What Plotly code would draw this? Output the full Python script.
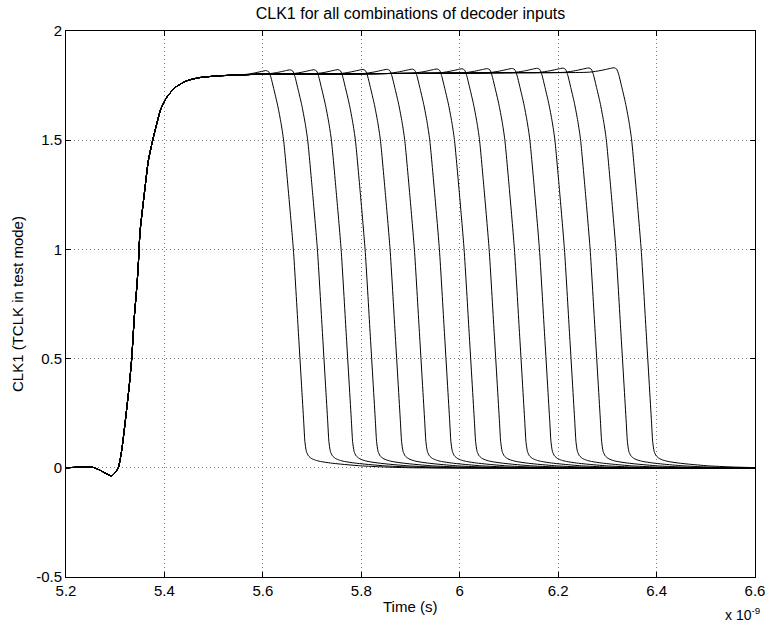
import numpy as np
import plotly.graph_objects as go

# ---- data (time in units of 1e-9 s) ----
# common rising edge (shared by all curves)
rise_t = [5.200, 5.230, 5.255, 5.269, 5.282, 5.2929, 5.300, 5.3063, 5.3132, 5.3213,
          5.3287, 5.3335, 5.3388, 5.3443, 5.3474, 5.3504, 5.3606, 5.3673, 5.3774,
          5.3843, 5.3925, 5.4047, 5.4215, 5.4453, 5.4724, 5.5130, 5.5943]
rise_v = [0.000, 0.003, 0.002, -0.011, -0.027, -0.037, -0.022, 0.000, 0.08, 0.23,
          0.38, 0.50, 0.69, 0.84, 0.95, 1.08, 1.283, 1.406, 1.512,
          1.574, 1.642, 1.696, 1.741, 1.772, 1.787, 1.795, 1.802]
# slowly rising high level
top_t = [5.70, 5.90, 6.10, 6.30, 6.50, 6.60]
top_v = [1.803, 1.806, 1.809, 1.812, 1.814, 1.815]

# time where each curve crosses 1.0 on its falling edge
fall_cross = [5.662, 5.7108, 5.759, 5.8077, 5.8585, 5.9079, 5.9587, 6.0089,
              6.0598, 6.1112, 6.162, 6.2128, 6.265, 6.3173, 6.3687]

# falling-edge shape relative to the 1.0 crossing (offset in 1e-9 s)
fall_dt = [-0.1057, -0.0813, -0.0650, -0.0549, -0.0498, -0.0457, -0.0400, -0.0319,
           -0.0250, -0.0197, -0.0102, 0.0, 0.0102, 0.0209, 0.0234, 0.0264, 0.0305,
           0.0366, 0.0447, 0.0549, 0.0752, 0.0955, 0.1362, 0.1829, 0.2439]
fall_v = [1.802, 1.810, 1.818, 1.822, 1.816, 1.792, 1.740, 1.662,
          1.580, 1.500, 1.270, 1.000, 0.620, 0.215, 0.120, 0.075, 0.055,
          0.043, 0.035, 0.029, 0.022, 0.017, 0.009, 0.004, 0.000]

x_ticks = [5.2, 5.4, 5.6, 5.8, 6.0, 6.2, 6.4, 6.6]
x_ticktext = ['5.2', '5.4', '5.6', '5.8', '6', '6.2', '6.4', '6.6']
y_ticks = [-0.5, 0, 0.5, 1, 1.5, 2]
y_ticktext = ['-0.5', '0', '0.5', '1', '1.5', '2']

base_t = np.array(rise_t + top_t)
base_v = np.array(rise_v + top_v)

fig = go.Figure()
for tc in fall_cross:
    t0 = tc + fall_dt[0]
    scale = np.interp(t0, base_t, base_v) / fall_v[0]
    keep = base_t < t0
    ts = list(base_t[keep]) + [tc + d for d in fall_dt]
    vs = list(base_v[keep]) + [v * scale if v > 1.0 else v for v in fall_v]
    if ts[-1] < 6.6:
        ts.append(6.6)
        vs.append(0.0)
    fig.add_trace(go.Scatter(x=ts, y=vs, mode='lines',
                             line=dict(color='black', width=1, shape='spline', smoothing=0.6),
                             hoverinfo='skip', showlegend=False))

font_family = 'Liberation Sans, Arial, Helvetica, sans-serif'
FS = 15
axis_common = dict(showline=True, linecolor='black', linewidth=1, mirror='ticks',
                   ticks='inside', ticklen=5, tickcolor='black', tickwidth=1,
                   showgrid=True, gridcolor='#7a7a7a', gridwidth=1, griddash='1px,3px',
                   zeroline=False, automargin=False,
                   tickfont=dict(size=FS, color='black', family=font_family))

L, R, T, B = 66, 14, 31, 49
W, H = 769, 626
pw, ph = W - L - R, H - T - B

fig.update_layout(
    width=W, height=H,
    margin=dict(l=L, r=R, t=T, b=B, autoexpand=False),
    plot_bgcolor='white', paper_bgcolor='white',
    font=dict(family=font_family, size=FS, color='black'),
    showlegend=False,
    title=dict(text='CLK1 for all combinations of decoder inputs',
               x=0.5, xref='paper', xanchor='center',
               y=1 - 13 / H, yref='container', yanchor='middle',
               font=dict(size=16, color='black', family=font_family)),
    xaxis=dict(range=[5.2, 6.6], tickvals=x_ticks, ticktext=x_ticktext, **axis_common),
    yaxis=dict(range=[-0.5, 2], tickvals=y_ticks, ticktext=y_ticktext, **axis_common),
)
# axis titles placed by pixel position
fig.add_annotation(text='Time (s)', xref='paper', yref='paper',
                   x=(410 - L) / pw, y=-(606 - (T + ph)) / ph,
                   xanchor='center', yanchor='middle', showarrow=False,
                   font=dict(size=FS, color='black', family=font_family))
fig.add_annotation(text='CLK1 (TCLK in test mode)', xref='paper', yref='paper',
                   x=(17 - L) / pw, y=0.5, textangle=-90,
                   xanchor='center', yanchor='middle', showarrow=False,
                   font=dict(size=FS, color='black', family=font_family))
fig.add_annotation(text='x 10<sup>-9</sup>', xref='paper', yref='paper',
                   x=(742 - L) / pw, y=-(614 - (T + ph)) / ph,
                   xanchor='center', yanchor='middle', showarrow=False,
                   font=dict(size=14, color='black', family=font_family))

fig.write_html('out.html', config={'displayModeBar': False},
               post_script="document.body.style.margin='0';document.body.style.padding='0';"
                           "document.body.style.overflow='hidden';")
